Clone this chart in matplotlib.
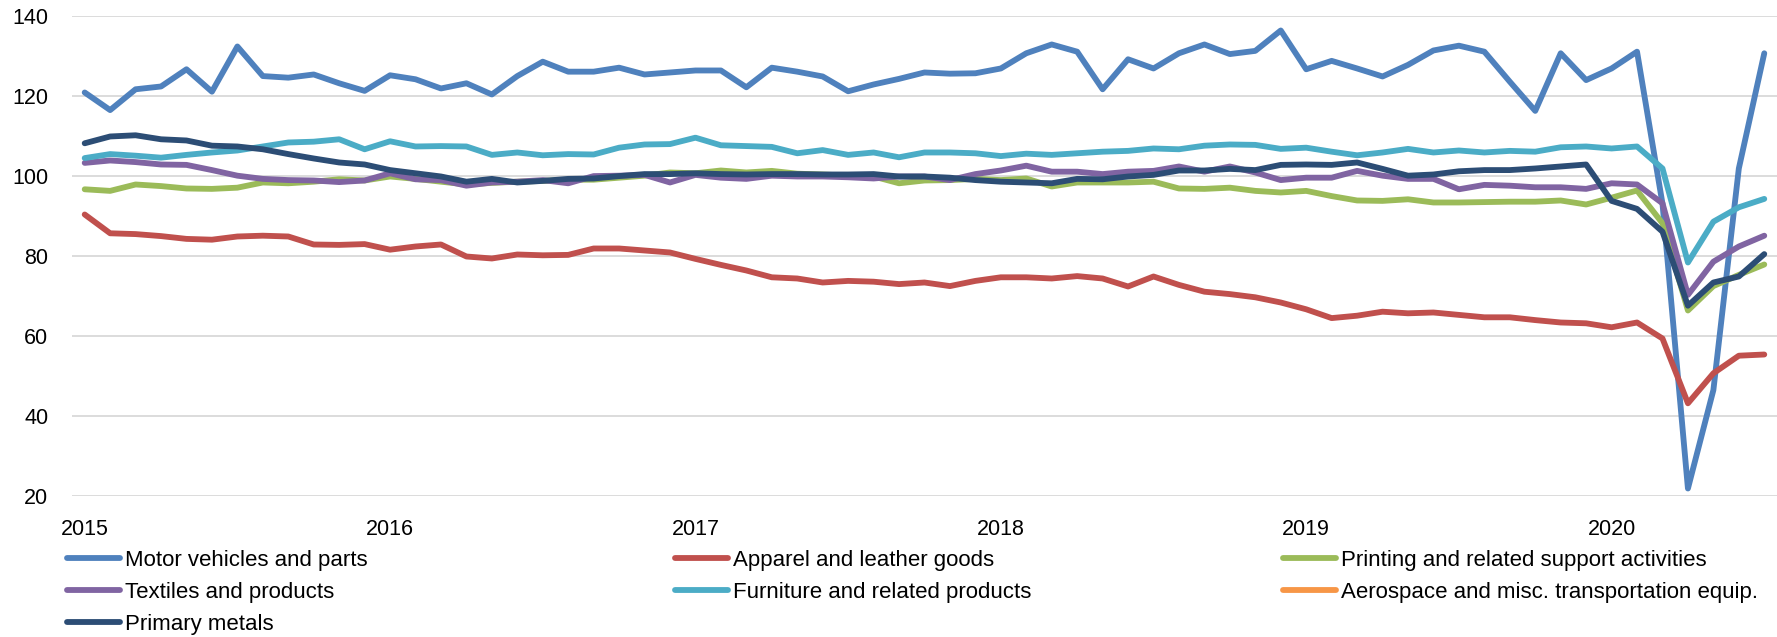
import matplotlib
matplotlib.use('Agg')
import matplotlib.pyplot as plt
import numpy as np

plt.rcParams['font.family'] = ['Liberation Sans', 'DejaVu Sans']

# monthly index, Jan 2015 .. Jul 2020
years = ['2015', '2016', '2017', '2018', '2019', '2020']

motor = [120.8, 116.4, 121.6, 122.3, 126.6, 121.0, 132.3, 124.9, 124.5, 125.3, 123.1, 121.2, 125.1, 124.1, 121.8,
         123.1, 120.3, 124.9, 128.5, 126.0, 126.0, 127.0, 125.3, 125.8, 126.3, 126.3, 122.1, 127.0, 126.0, 124.8, 121.1,
         122.8, 124.2, 125.8, 125.5, 125.6, 126.8, 130.6, 132.8, 131.0, 121.6, 129.1, 126.8, 130.6, 132.8, 130.4, 131.2, 136.3,
         126.6, 128.7, 126.8, 124.8, 127.7, 131.3, 132.5, 131.0, 123.5, 116.2, 130.6, 123.9, 126.8, 131.0, 93.0, 21.8, 46.4, 101.8, 130.6]
apparel = [90.3, 85.6, 85.4, 84.9, 84.2, 84.0, 84.8, 85.0, 84.8, 82.8, 82.7, 82.9, 81.5, 82.3, 82.8,
           79.8, 79.3, 80.3, 80.1, 80.2, 81.8, 81.8, 81.3, 80.8, 79.2, 77.7, 76.3, 74.6, 74.3, 73.3, 73.7,
           73.5, 72.9, 73.3, 72.4, 73.7, 74.6, 74.6, 74.3, 74.9, 74.3, 72.3, 74.8, 72.7, 71.0, 70.4, 69.6, 68.3,
           66.6, 64.4, 65.0, 66.0, 65.6, 65.8, 65.2, 64.6, 64.6, 63.9, 63.3, 63.1, 62.1, 63.3, 59.3, 43.1, 50.6, 55.0, 55.3]
printing = [96.6, 96.2, 97.8, 97.4, 96.8, 96.7, 97.0, 98.3, 98.1, 98.5, 99.1, 98.8, 99.8, 99.2, 98.5,
            97.8, 98.2, 98.5, 98.7, 99.0, 99.0, 99.5, 100.0, 100.8, 100.6, 101.3, 100.8, 101.2, 100.5, 100.3, 100.0,
            99.8, 98.1, 98.8, 98.9, 99.2, 98.9, 99.3, 97.3, 98.3, 98.3, 98.3, 98.5, 96.8, 96.7, 97.0, 96.2, 95.8,
            96.2, 94.9, 93.8, 93.7, 94.1, 93.3, 93.3, 93.4, 93.5, 93.5, 93.8, 92.8, 94.5, 96.3, 88.1, 66.3, 72.4, 75.2, 77.8]
textiles = [103.2, 103.8, 103.4, 102.8, 102.7, 101.4, 100.0, 99.2, 98.9, 98.8, 98.4, 98.8, 100.6, 99.1, 98.9,
            97.5, 98.3, 98.5, 98.9, 98.1, 99.9, 100.0, 100.2, 98.3, 100.2, 99.5, 99.2, 100.0, 99.8, 99.8, 99.6,
            99.3, 99.8, 99.8, 98.9, 100.4, 101.3, 102.5, 101.0, 101.0, 100.4, 101.0, 101.2, 102.3, 101.0, 102.3, 100.8, 98.9,
            99.5, 99.5, 101.2, 100.0, 99.2, 99.2, 96.6, 97.7, 97.5, 97.1, 97.1, 96.7, 98.1, 97.8, 93.1, 70.2, 78.5, 82.3, 85.0]
furniture = [104.4, 105.4, 105.0, 104.5, 105.2, 105.8, 106.3, 107.3, 108.3, 108.5, 109.1, 106.6, 108.6, 107.3, 107.4,
             107.3, 105.2, 105.8, 105.1, 105.4, 105.3, 107.0, 107.8, 107.9, 109.5, 107.6, 107.4, 107.2, 105.6, 106.4, 105.2,
             105.8, 104.6, 105.8, 105.8, 105.6, 104.9, 105.5, 105.2, 105.6, 106.0, 106.2, 106.8, 106.6, 107.5, 107.8, 107.7, 106.7,
             107.0, 106.0, 105.1, 105.8, 106.7, 105.8, 106.3, 105.8, 106.2, 106.0, 107.1, 107.3, 106.8, 107.3, 101.8, 78.3, 88.5, 92.1, 94.2]
aerospace = []  # in the legend only, no visible line
metals = [108.1, 109.8, 110.1, 109.1, 108.8, 107.5, 107.3, 106.6, 105.4, 104.3, 103.3, 102.8, 101.4, 100.6, 99.8,
          98.5, 99.2, 98.3, 98.7, 99.2, 99.3, 99.9, 100.4, 100.4, 100.6, 100.4, 100.3, 100.4, 100.4, 100.3, 100.3,
          100.4, 99.8, 99.8, 99.5, 98.9, 98.5, 98.3, 98.1, 99.2, 99.1, 99.8, 100.2, 101.3, 101.3, 101.7, 101.4, 102.7,
          102.8, 102.7, 103.3, 101.7, 100.0, 100.3, 101.1, 101.4, 101.4, 101.8, 102.3, 102.8, 93.7, 91.7, 86.0, 67.5, 73.3, 74.8, 80.4]

series = [
    ('Motor vehicles and parts', motor, '#4F81BD'),
    ('Apparel and leather goods', apparel, '#C0504D'),
    ('Printing and related support activities', printing, '#9BBB59'),
    ('Textiles and products', textiles, '#8064A2'),
    ('Furniture and related products', furniture, '#4BACC6'),
    ('Aerospace and misc. transportation equip.', aerospace, '#F79646'),
    ('Primary metals', metals, '#2C4D75'),
]

fig = plt.figure(figsize=(17.77, 6.37), dpi=100)
ax = fig.add_axes([0.0405, 0.2218, 0.9595, 0.7536])

lines = {}
for name, vals, col in series:
    x = np.arange(len(vals))
    ln, = ax.plot(x, vals, color=col, lw=4.2, solid_joinstyle='round', solid_capstyle='round', label=name)
    lines[name] = ln

ax.set_xlim(-0.5, len(motor) - 0.5)
ax.set_ylim(20, 140)
ax.set_yticks(range(20, 141, 20))
ax.set_xticks(np.arange(0, len(motor), 12))
ax.set_xticklabels(years)
ax.tick_params(axis='both', length=0, labelsize=15.5)
ax.tick_params(axis='y', pad=17)
ax.tick_params(axis='x', pad=17)
ax.grid(axis='y', color='#D9D9D9', lw=1.3)
ax.set_axisbelow(True)
for s in ax.spines.values():
    s.set_visible(False)

# legend laid out in three columns, row by row like the original
cols = [
    (67, ['Motor vehicles and parts', 'Textiles and products', 'Primary metals']),
    (675, ['Apparel and leather goods', 'Furniture and related products']),
    (1283, ['Printing and related support activities', 'Aerospace and misc. transportation equip.']),
]
for xpix, names in cols:
    leg = fig.legend([lines[n] for n in names], names, loc='upper left',
                     bbox_to_anchor=(xpix / 1777, 1 - 550 / 637), frameon=False,
                     fontsize=16, handlelength=2.4, handletextpad=0.2,
                     labelspacing=0.5, borderpad=0, borderaxespad=0)

fig.savefig('out.png', dpi=100)
